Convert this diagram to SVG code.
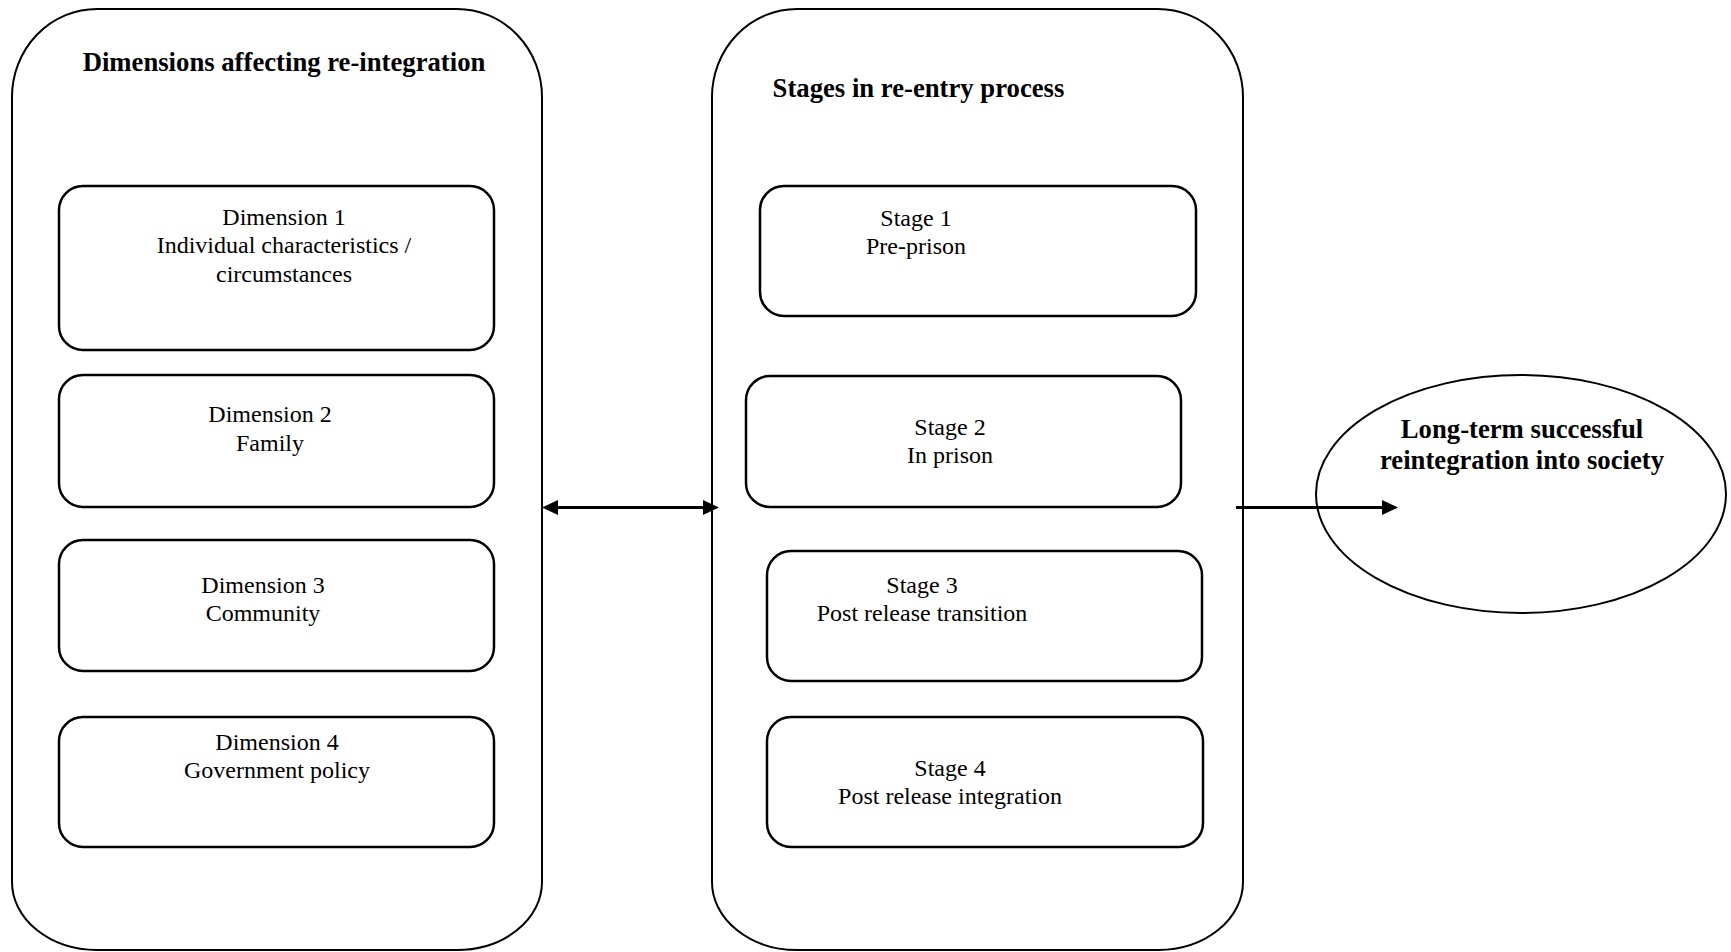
<svg xmlns="http://www.w3.org/2000/svg" width="1731" height="952" viewBox="0 0 1731 952">
<style>
.outer{fill:none;stroke:#000;stroke-width:2}
.inner{fill:#fff;stroke:#000;stroke-width:2.5}
.t{font-family:"Liberation Serif","Times New Roman",serif;font-size:24px;fill:#000;text-anchor:middle}
.b{font-family:"Liberation Serif","Times New Roman",serif;font-size:26.7px;font-weight:bold;fill:#000;text-anchor:middle}
.conn{stroke:#000;stroke-width:3;fill:none}
</style>
<defs>
<marker id="head" markerUnits="userSpaceOnUse" markerWidth="20" markerHeight="20" refX="1" refY="10" orient="auto-start-reverse" overflow="visible">
<path d="M0,2.5 L16,10 L0,17.5 z" fill="#000"/>
</marker>
</defs>
<rect width="1731" height="952" fill="#fff"/>
<g id="dimensions">
<path class="outer" d="M97,9 H457 A85 88 0 0 1 542,97 V882 A85 68 0 0 1 457,950 H97 A85 68 0 0 1 12,882 V97 A85 88 0 0 1 97,9 Z"/>
<text class="b" x="284" y="71">Dimensions affecting re-integration</text>
</g>
<g id="dim1">
<rect class="inner" x="59" y="186" width="435" height="164" rx="24"/>
<text class="t" x="284" y="225">Dimension 1</text>
<text class="t" x="284" y="253">Individual characteristics /</text>
<text class="t" x="284" y="282">circumstances</text>
</g>
<g id="dim2">
<rect class="inner" x="59" y="375" width="435" height="132" rx="24"/>
<text class="t" x="270" y="422">Dimension 2</text>
<text class="t" x="270" y="451">Family</text>
</g>
<g id="dim3">
<rect class="inner" x="59" y="540" width="435" height="131" rx="24"/>
<text class="t" x="263" y="593">Dimension 3</text>
<text class="t" x="263" y="621">Community</text>
</g>
<g id="dim4">
<rect class="inner" x="59" y="717" width="435" height="130" rx="24"/>
<text class="t" x="277" y="750">Dimension 4</text>
<text class="t" x="277" y="778">Government policy</text>
</g>
<g id="stages">
<path class="outer" d="M797,9 H1158 A85 88 0 0 1 1243,97 V882 A85 68 0 0 1 1158,950 H797 A85 68 0 0 1 712,882 V97 A85 88 0 0 1 797,9 Z"/>
<text class="b" x="918.5" y="97">Stages in re-entry process</text>
</g>
<g id="stage1">
<rect class="inner" x="760" y="186" width="436" height="130" rx="24"/>
<text class="t" x="916" y="226">Stage 1</text>
<text class="t" x="916" y="254">Pre-prison</text>
</g>
<g id="stage2">
<rect class="inner" x="746" y="376" width="435" height="131" rx="24"/>
<text class="t" x="950" y="435">Stage 2</text>
<text class="t" x="950" y="463">In prison</text>
</g>
<g id="stage3">
<rect class="inner" x="767" y="551" width="435" height="130" rx="24"/>
<text class="t" x="922" y="593">Stage 3</text>
<text class="t" x="922" y="621">Post release transition</text>
</g>
<g id="stage4">
<rect class="inner" x="767" y="717" width="436" height="130" rx="24"/>
<text class="t" x="950" y="776">Stage 4</text>
<text class="t" x="950" y="804">Post release integration</text>
</g>
<g id="outcome">
<ellipse cx="1521" cy="494" rx="205" ry="119" fill="none" stroke="#000" stroke-width="2"/>
<text class="b" x="1522" y="438">Long-term successful</text>
<text class="b" x="1522" y="469">reintegration into society</text>
</g>
<g id="connectors">
<line class="conn" x1="557" y1="507.5" x2="704" y2="507.5" marker-start="url(#head)" marker-end="url(#head)"/>
<line class="conn" x1="1236" y1="507.5" x2="1383" y2="507.5" marker-end="url(#head)"/>
</g>
</svg>
